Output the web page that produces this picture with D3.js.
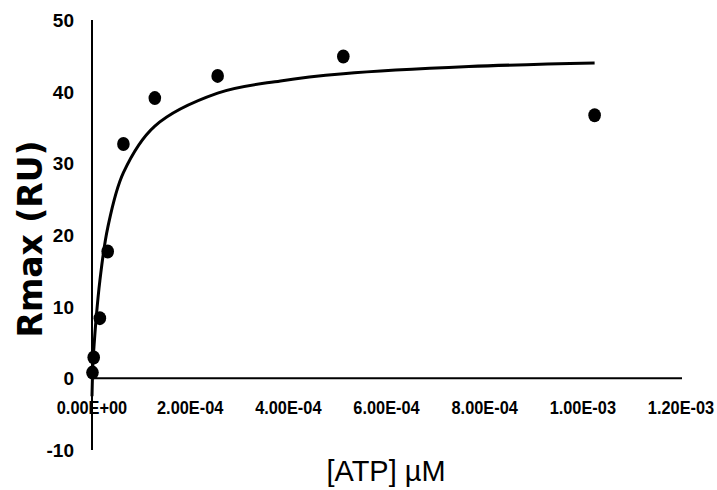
<!DOCTYPE html>
<html>
<head>
<meta charset="utf-8">
<script src="https://cdn.jsdelivr.net/npm/d3@7"></script>
<style>
  body { margin: 0; background: #fff; }
  .tick_lbl { font-family: "Liberation Sans Narrow", "Arial Narrow", sans-serif; font-weight: bold; font-size: 19px; fill: #000; }
</style>
</head>
<body>
<div id="chart"></div>
<script>
// measured points
var atp_conc = [1e-6, 3.5e-6, 1.6e-5, 3.2e-5, 6.4e-5, 1.28e-4, 2.56e-4, 5.12e-4, 1.024e-3];
var rmax_vals = [0.8, 2.9, 8.4, 17.7, 32.7, 39.1, 42.2, 44.9, 36.7];

// fitted curve
var fit_conc = [0, 2e-6, 4e-6, 8e-6, 1.6e-5, 3.2e-5, 6.4e-5, 1.28e-4, 2.56e-4, 3.84e-4, 5.12e-4, 7.68e-4, 1.024e-3];
var fit_vals = [-2.5, 2.3, 4.4, 8.0, 13.6, 21.0, 28.7, 35.2, 39.8, 41.5, 42.5, 43.5, 44.0];

var x_ticks = [0, 2e-4, 4e-4, 6e-4, 8e-4, 1e-3, 1.2e-3];
var x_tick_labels = ["0.00E+00", "2.00E-04", "4.00E-04", "6.00E-04", "8.00E-04", "1.00E-03", "1.20E-03"];
var y_ticks = [-10, 0, 10, 20, 30, 40, 50];

var width = 717, height = 490;

var svg = d3.select("#chart").append("svg")
    .attr("width", width)
    .attr("height", height);

var x = d3.scaleLinear().domain([0, 1.2e-3]).range([92, 681]);
var y = d3.scaleLinear().domain([-10, 50]).range([450, 20]);

// y axis line
svg.append("line")
    .attr("x1", x(0)).attr("x2", x(0))
    .attr("y1", y(50)).attr("y2", y(-10))
    .attr("stroke", "#000")
    .attr("stroke-width", 2);

// x axis line at y = 0
svg.append("line")
    .attr("x1", x(0)).attr("x2", x(1.2e-3) + 1)
    .attr("y1", y(0)).attr("y2", y(0))
    .attr("stroke", "#000")
    .attr("stroke-width", 2);

// y tick labels
svg.selectAll(".ylbl")
    .data(y_ticks)
    .enter()
    .append("text")
    .attr("class", "tick_lbl")
    .attr("x", 74)
    .attr("y", d => y(d))
    .attr("dy", "0.36em")
    .attr("text-anchor", "end")
    .text(d => d);

// x tick labels, squeezed a bit like the original
svg.selectAll(".xlbl")
    .data(x_ticks)
    .enter()
    .append("text")
    .attr("class", "tick_lbl")
    .attr("x", d => x(d))
    .attr("y", 414)
    .attr("text-anchor", "middle")
    .text((d, i) => x_tick_labels[i])
    .each(function(){
        var w = this.getComputedTextLength();
        d3.select(this).attr("textLength", w * 0.86).attr("lengthAdjust", "spacingAndGlyphs");
    });

// fitted curve
var line = d3.line()
    .x((d, i) => x(fit_conc[i]))
    .y(d => y(d))
    .curve(d3.curveCatmullRom.alpha(0.5));

svg.append("path")
    .datum(fit_vals)
    .attr("d", line)
    .attr("fill", "none")
    .attr("stroke", "#000")
    .attr("stroke-width", 3);

// points
svg.selectAll(".dot")
    .data(rmax_vals)
    .enter()
    .append("ellipse")
    .attr("class", "dot")
    .attr("cx", (d, i) => x(atp_conc[i]))
    .attr("cy", d => y(d))
    .attr("rx", 6.3)
    .attr("ry", 7)
    .attr("fill", "#000");

// axis titles
svg.append("text")
    .attr("transform", "translate(42," + 239 + ") rotate(-90)")
    .attr("text-anchor", "middle")
    .attr("textLength", 197)
    .attr("lengthAdjust", "spacingAndGlyphs")
    .style("font-family", "'DejaVu Sans', sans-serif")
    .style("font-weight", "bold")
    .style("font-size", "33px")
    .text("Rmax (RU)");

svg.append("text")
    .attr("x", 386)
    .attr("y", 481)
    .attr("text-anchor", "middle")
    .attr("textLength", 119)
    .attr("lengthAdjust", "spacingAndGlyphs")
    .style("font-family", "'Liberation Sans', Arial, sans-serif")
    .style("font-size", "30px")
    .text("[ATP] µM");
</script>
</body>
</html>
